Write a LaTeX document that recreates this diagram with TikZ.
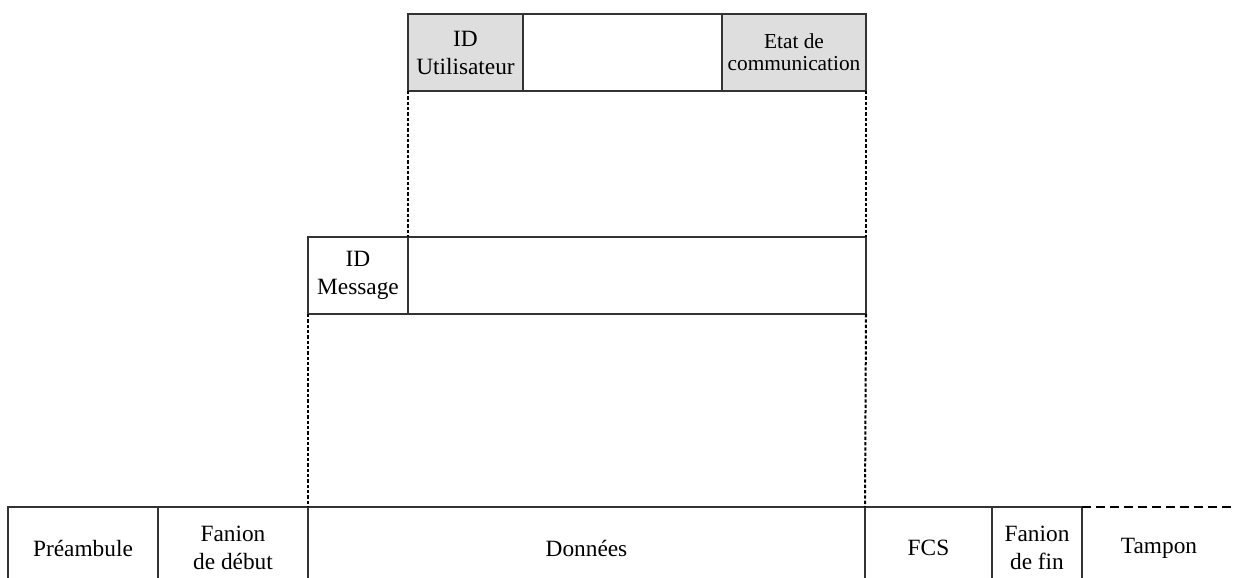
\documentclass[tikz,border=0pt]{standalone}
\usepackage{fontspec}
\setmainfont{Liberation Serif}
\usetikzlibrary{positioning}

\begin{document}
\begin{tikzpicture}[x=0.75pt,y=-0.75pt]
\tikzset{cell/.style={draw=black!80,line width=0.8pt,rectangle,inner sep=0pt,outer sep=0pt,
            align=center,font=\fontsize{17.5}{21}\selectfont},
         greycell/.style={cell,fill=black!13},
         small/.style={font=\fontsize{16}{16.5}\selectfont},
         link/.style={line width=1.5pt,dash pattern=on 2.5pt off 1.5pt}}
\useasboundingbox (0,0) rectangle (1236,578);
\clip (0,0) rectangle (1236,578);
% utilisateur
\node[greycell,anchor=north west,minimum width=86.25pt,minimum height=57.75pt] (uid) at (408,14) {ID\\Utilisateur};
\node[cell,right=0pt of uid,minimum width=149.25pt,minimum height=57.75pt] (ublank) {};
\node[greycell,small,right=0pt of ublank,minimum width=108pt,minimum height=57.75pt] (etat) {Etat de\\communication};
% message
\node[cell,anchor=north west,minimum width=75pt,minimum height=57.75pt] (mid) at (308,237) {ID\\Message};
\node[cell,right=0pt of mid,minimum width=343.5pt,minimum height=57.75pt] (mdata) {};
% trame
\node[cell,anchor=north west,minimum width=112.5pt,minimum height=61.5pt] (pre) at (8,507) {Préambule};
\node[cell,right=0pt of pre,minimum width=112.5pt,minimum height=61.5pt] (fdeb) {Fanion\\de début};
\node[cell,right=0pt of fdeb,minimum width=417.75pt,minimum height=61.5pt] (don) {Données};
\node[cell,right=0pt of don,minimum width=95.25pt,minimum height=61.5pt] (fcs) {FCS};
\node[cell,right=0pt of fcs,minimum width=67.5pt,minimum height=61.5pt] (ffin) {Fanion\\de fin};
\node[cell,draw=none,right=0pt of ffin,minimum width=115.5pt,minimum height=61.5pt] (tampon) {Tampon};
\draw[line width=1.3pt,dash pattern=on 6.75pt off 3.75pt] (tampon.north west) -- (tampon.north east);
\draw[link] (uid.south west) -- (mdata.north west);
\draw[link] (etat.south east) -- (mdata.north east);
\draw[link] (mid.south west) -- (don.north west);
\draw[link] (mdata.south east) -- (don.north east);
\end{tikzpicture}
\end{document}
